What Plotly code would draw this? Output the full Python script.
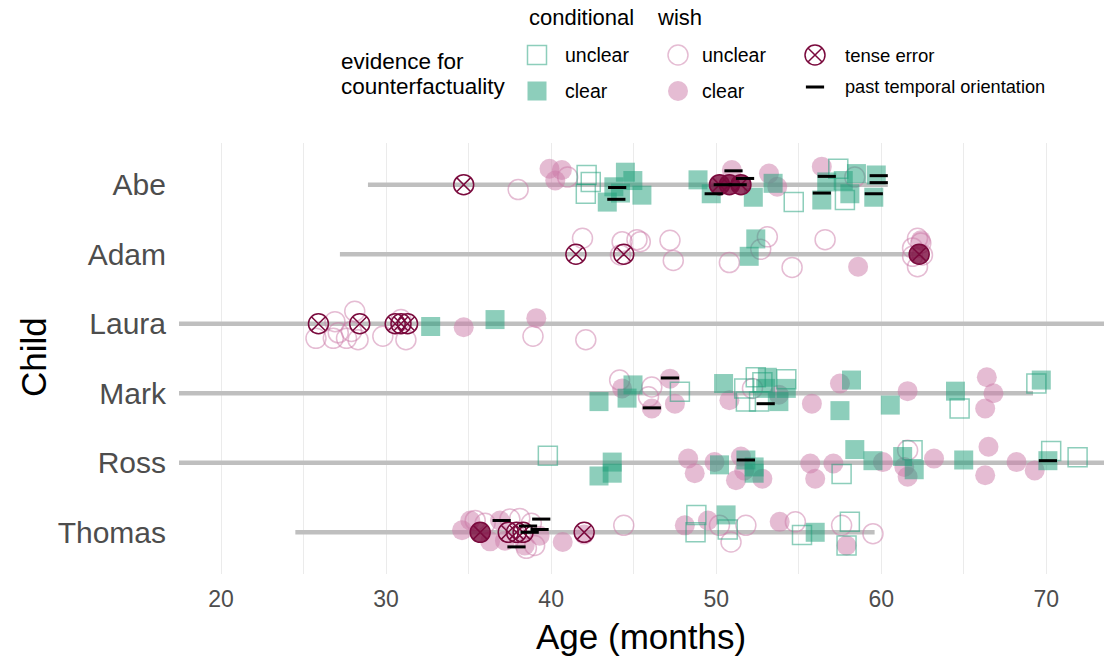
import plotly.graph_objects as go

CHILDREN = ["Abe", "Adam", "Laura", "Mark", "Ross", "Thomas"]
RANGE_START = [28.9, 27.2, 17.0, 17.0, 17.0, 24.5]
RANGE_END = [60.4, 62.3, 74.0, 69.2, 74.0, 59.6]

X_TICKS = [20, 25, 30, 35, 40, 45, 50, 55, 60, 65, 70]
X_TICKTEXT = ["20", "", "30", "", "40", "", "50", "", "60", "", "70"]

# (child, age in months, vertical jitter in row units)
WISH_CLEAR = [
    ("Abe", 39.9, 0.23), ("Abe", 40.25, 0.06), ("Abe", 40.65, 0.21), ("Abe", 50.95, 0.21),
    ("Abe", 53.2, 0.16), ("Abe", 53.7, -0.03), ("Abe", 56.4, 0.26),
    ("Adam", 58.6, -0.18), ("Adam", 62.4, 0.2),
    ("Laura", 34.7, -0.05), ("Laura", 39.1, 0.08),
    ("Mark", 44.3, 0.07), ("Mark", 46.1, -0.22), ("Mark", 47.2, 0.21), ("Mark", 47.5, -0.15),
    ("Mark", 50.8, -0.1), ("Mark", 53.8, -0.02), ("Mark", 55.8, -0.15), ("Mark", 57.5, 0.14),
    ("Mark", 61.6, 0.03), ("Mark", 66.4, 0.23), ("Mark", 66.8, 0.0), ("Mark", 66.3, -0.22),
    ("Ross", 48.3, 0.06), ("Ross", 48.7, -0.15), ("Ross", 49.9, 0.01), ("Ross", 51.5, 0.09),
    ("Ross", 51.2, -0.25), ("Ross", 51.7, -0.11), ("Ross", 52.8, -0.23), ("Ross", 55.7, -0.01),
    ("Ross", 56.0, -0.23), ("Ross", 57.1, -0.01), ("Ross", 60.1, 0.01), ("Ross", 61.4, -0.06),
    ("Ross", 61.6, -0.2), ("Ross", 63.2, 0.06), ("Ross", 66.5, 0.23), ("Ross", 66.3, -0.18),
    ("Ross", 68.2, 0.01), ("Ross", 69.3, -0.11),
    ("Thomas", 35.1, 0.17), ("Thomas", 34.6, 0.03), ("Thomas", 36.3, -0.13), ("Thomas", 36.9, 0.17),
    ("Thomas", 38.4, -0.19), ("Thomas", 37.2, -0.12), ("Thomas", 39.3, -0.05), ("Thomas", 40.7, -0.14),
    ("Thomas", 42.0, -0.03), ("Thomas", 48.1, 0.1), ("Thomas", 49.5, 0.17), ("Thomas", 53.85, 0.15),
    ("Thomas", 57.9, -0.19),
]

WISH_UNCLEAR = [
    ("Abe", 38.0, -0.07), ("Abe", 41.0, 0.11), ("Abe", 58.4, 0.11),
    ("Adam", 41.9, 0.23), ("Adam", 44.3, 0.18), ("Adam", 44.2, -0.01), ("Adam", 45.2, 0.21),
    ("Adam", 45.4, 0.18), ("Adam", 47.2, 0.2), ("Adam", 47.4, -0.09), ("Adam", 50.8, -0.12),
    ("Adam", 53.1, 0.25), ("Adam", 52.7, 0.07), ("Adam", 54.6, -0.19), ("Adam", 56.6, 0.21),
    ("Adam", 62.2, 0.23), ("Adam", 62.4, 0.16), ("Adam", 61.9, -0.03), ("Adam", 62.2, -0.18),
    ("Adam", 62.5, -0.01), ("Adam", 61.9, 0.09),
    ("Laura", 25.75, -0.21), ("Laura", 26.9, 0.03), ("Laura", 26.8, -0.21), ("Laura", 27.1, -0.13),
    ("Laura", 27.6, -0.21), ("Laura", 28.1, 0.18), ("Laura", 27.9, -0.11), ("Laura", 28.3, -0.23),
    ("Laura", 29.8, -0.18), ("Laura", 31.2, -0.23), ("Laura", 30.9, 0.06), ("Laura", 38.9, -0.18),
    ("Laura", 42.1, -0.23),
    ("Mark", 44.15, 0.19), ("Mark", 46.1, 0.09), ("Mark", 45.9, -0.05), ("Mark", 52.2, 0.07),
    ("Ross", 61.6, 0.18),
    ("Thomas", 35.4, 0.17), ("Thomas", 36.0, 0.13), ("Thomas", 37.5, 0.19), ("Thomas", 38.1, 0.2),
    ("Thomas", 39.0, -0.19), ("Thomas", 38.5, -0.23), ("Thomas", 38.8, 0.13), ("Thomas", 44.4, 0.1),
    ("Thomas", 50.2, 0.1), ("Thomas", 51.8, 0.1), ("Thomas", 50.9, -0.14), ("Thomas", 54.8, 0.15),
    ("Thomas", 57.6, 0.1), ("Thomas", 59.5, -0.02),
]

COND_CLEAR = [
    ("Abe", 44.5, 0.18), ("Abe", 44.95, 0.06), ("Abe", 45.5, -0.15), ("Abe", 43.8, -0.03),
    ("Abe", 43.4, -0.25), ("Abe", 44.2, -0.12), ("Abe", 48.9, 0.07), ("Abe", 49.7, -0.13),
    ("Abe", 52.25, -0.18), ("Abe", 53.45, 0.02), ("Abe", 56.4, -0.22), ("Abe", 56.7, 0.04),
    ("Abe", 58.1, -0.13), ("Abe", 58.5, 0.16), ("Abe", 59.7, 0.14), ("Abe", 59.55, -0.18),
    ("Abe", 57.7, 0.06),
    ("Adam", 52.4, 0.22), ("Adam", 52.0, -0.03),
    ("Laura", 32.7, -0.04), ("Laura", 36.6, 0.06),
    ("Mark", 42.9, -0.12), ("Mark", 44.96, 0.12), ("Mark", 44.6, -0.07), ("Mark", 50.45, 0.14),
    ("Mark", 53.1, 0.23), ("Mark", 53.0, 0.07), ("Mark", 53.8, -0.12), ("Mark", 54.25, 0.07),
    ("Mark", 58.2, 0.19), ("Mark", 57.5, -0.25), ("Mark", 60.55, -0.17), ("Mark", 64.5, 0.03),
    ("Mark", 69.7, 0.19),
    ("Ross", 43.7, 0.01), ("Ross", 42.9, -0.19), ("Ross", 43.7, -0.15), ("Ross", 50.2, -0.03),
    ("Ross", 51.8, 0.04), ("Ross", 52.3, -0.06), ("Ross", 52.3, -0.15), ("Ross", 58.4, 0.19),
    ("Ross", 59.5, 0.03), ("Ross", 61.3, 0.09), ("Ross", 62.0, -0.1), ("Ross", 65.0, 0.04),
    ("Ross", 70.1, 0.03),
    ("Thomas", 50.6, 0.25), ("Thomas", 56.0, 0.0),
]

COND_UNCLEAR = [
    ("Abe", 42.15, 0.14), ("Abe", 42.4, 0.04), ("Abe", 42.1, -0.13), ("Abe", 54.7, -0.25),
    ("Abe", 57.4, 0.23), ("Abe", 57.8, -0.22),
    ("Mark", 47.8, 0.02), ("Mark", 52.4, 0.23), ("Mark", 54.25, 0.2), ("Mark", 51.7, 0.07),
    ("Mark", 51.8, -0.12), ("Mark", 52.6, -0.12), ("Mark", 52.8, 0.16), ("Mark", 64.75, -0.22),
    ("Mark", 69.4, 0.14),
    ("Ross", 39.8, 0.1), ("Ross", 57.6, -0.16), ("Ross", 61.9, 0.18), ("Ross", 70.3, 0.17),
    ("Ross", 71.9, 0.08),
    ("Thomas", 48.8, 0.25), ("Thomas", 48.75, 0.0), ("Thomas", 50.7, 0.04), ("Thomas", 55.2, -0.04),
    ("Thomas", 58.1, 0.15), ("Thomas", 57.9, -0.19),
]

TENSE_ERROR_UNCLEAR = [
    ("Abe", 34.7, 0.0),
    ("Adam", 41.5, 0.0), ("Adam", 44.4, 0.0),
    ("Laura", 25.9, 0.0), ("Laura", 28.4, 0.0), ("Laura", 30.55, 0.0), ("Laura", 30.9, 0.0),
    ("Laura", 31.3, 0.0),
    ("Thomas", 37.4, 0.0), ("Thomas", 37.9, 0.0), ("Thomas", 38.3, 0.0), ("Thomas", 42.0, 0.0),
]

TENSE_ERROR_CLEAR = [
    ("Abe", 50.2, 0.0), ("Abe", 50.8, 0.0), ("Abe", 51.5, 0.0),
    ("Adam", 62.3, 0.0),
    ("Thomas", 35.7, 0.0),
]

PAST_ORIENTATION = [
    ("Abe", 44.0, -0.04), ("Abe", 43.95, -0.21), ("Abe", 51.05, 0.2), ("Abe", 50.4, 0.0),
    ("Abe", 51.3, 0.0), ("Abe", 49.85, -0.13), ("Abe", 51.75, 0.09), ("Abe", 56.7, 0.12),
    ("Abe", 56.4, -0.12), ("Abe", 59.85, 0.13), ("Abe", 59.85, 0.03), ("Abe", 59.55, -0.13),
    ("Mark", 47.2, 0.22), ("Mark", 46.1, -0.21), ("Mark", 53.0, -0.15),
    ("Ross", 51.8, 0.04), ("Ross", 70.1, 0.03),
    ("Thomas", 37.0, 0.17), ("Thomas", 39.4, 0.19), ("Thomas", 39.3, 0.04), ("Thomas", 38.6, 0.09),
    ("Thomas", 38.7, 0.0), ("Thomas", 37.9, -0.21),
]

# ---------------------------------------------------------------- styling
FONT = "Liberation Sans"
TEAL = "rgba(27,158,119,0.5)"
PINK = "rgba(204,121,167,0.5)"
MAROON = "#7a0a3d"
MAROON_FILL = "rgba(122,10,61,0.8)"
GREY_LINE = "#bfbfbf"

ypos = {c: len(CHILDREN) - i for i, c in enumerate(CHILDREN)}


def xy(pts):
    return [p[1] for p in pts], [ypos[p[0]] + p[2] for p in pts]


fig = go.Figure()

# child age-range lines
for c, s, e in zip(CHILDREN, RANGE_START, RANGE_END):
    fig.add_trace(go.Scatter(x=[s, e], y=[ypos[c], ypos[c]], mode="lines",
                             line=dict(color=GREY_LINE, width=4.5), hoverinfo="skip",
                             showlegend=False))

layers = [
    (WISH_CLEAR, dict(symbol="circle", size=20, color=PINK, line=dict(width=0))),
    (WISH_UNCLEAR, dict(symbol="circle-open", size=20, color=PINK, line=dict(width=1.5, color=PINK))),
    (COND_CLEAR, dict(symbol="square", size=19, color=TEAL, line=dict(width=0))),
    (COND_UNCLEAR, dict(symbol="square-open", size=19, color=TEAL, line=dict(width=1.5, color=TEAL))),
    (TENSE_ERROR_CLEAR, dict(symbol="circle-x", size=20, color=MAROON_FILL, line=dict(width=1.5, color=MAROON))),
    (TENSE_ERROR_UNCLEAR, dict(symbol="circle-x-open", size=20, color=MAROON, line=dict(width=1.5, color=MAROON))),
    (PAST_ORIENTATION, dict(symbol="line-ew", size=13, color="black", line=dict(width=3, color="black"))),
]
for pts, mk in layers:
    x, y = xy(pts)
    fig.add_trace(go.Scatter(x=x, y=y, mode="markers", marker=mk, showlegend=False,
                             hoverinfo="skip", cliponaxis=False))

# ---------------------------------------------------------------- legend (drawn on a helper axis)
LEG = dict(xaxis="x2", yaxis="y2", mode="markers", showlegend=False, hoverinfo="skip")
leg_items = [
    (537, 55, dict(symbol="square-open", size=19, color=TEAL, line=dict(width=1.5, color=TEAL))),
    (537, 91, dict(symbol="square", size=19, color=TEAL, line=dict(width=0))),
    (678, 55, dict(symbol="circle-open", size=20, color=PINK, line=dict(width=1.5, color=PINK))),
    (678, 91, dict(symbol="circle", size=20, color=PINK, line=dict(width=0))),
    (815, 55, dict(symbol="circle-x-open", size=20, color=MAROON, line=dict(width=1.5, color=MAROON))),
    (815, 87, dict(symbol="line-ew", size=13, color="black", line=dict(width=3, color="black"))),
]
for lx, ly, mk in leg_items:
    fig.add_trace(go.Scatter(x=[lx], y=[ly], marker=mk, **LEG))

annotations = []
leg_texts = [
    ("conditional", 527, 17, 22), ("wish", 655, 17, 22),
    ("evidence for", 339, 61, 22.5), ("counterfactuality", 339, 86, 22.5),
    ("unclear", 563, 55, 19.5), ("clear", 563, 91, 19.5),
    ("unclear", 700, 55, 19.5), ("clear", 700, 91, 19.5),
    ("tense error", 843, 55, 18.5), ("past temporal orientation", 843, 87, 18.2),
]
for t, lx, ly, fs in leg_texts:
    annotations.append(dict(text=t, x=lx, y=ly, xref="x2", yref="y2", xanchor="left",
                            yanchor="middle", showarrow=False,
                            font=dict(family=FONT, size=fs, color="black")))

H_PLOT = 574.0
main_top = (H_PLOT - 143) / H_PLOT

annotations.append(dict(text="Child", x=(33 - 179) / 925, y=(H_PLOT - 357) / H_PLOT,
                        xref="paper", yref="paper", textangle=-90, showarrow=False,
                        xanchor="center", yanchor="middle",
                        font=dict(family=FONT, size=35, color="black")))
annotations.append(dict(text="Age (months)", x=(641 - 179) / 925, y=(H_PLOT - 636) / H_PLOT,
                        xref="paper", yref="paper", showarrow=False,
                        xanchor="center", yanchor="middle",
                        font=dict(family=FONT, size=35, color="black")))

fig.update_layout(
    width=1104, height=658,
    margin=dict(l=179, r=0, t=0, b=84),
    paper_bgcolor="white", plot_bgcolor="white",
    font=dict(family=FONT),
    annotations=annotations,
    xaxis=dict(range=[17.45, 73.5], tickvals=X_TICKS, ticktext=X_TICKTEXT,
               showgrid=True, gridcolor="#ebebeb", gridwidth=1.3, zeroline=False,
               showline=False, ticks="outside", ticklen=4, tickcolor="rgba(0,0,0,0)",
               tickfont=dict(family=FONT, size=23, color="#4d4d4d")),
    yaxis=dict(range=[0.4, 6.6], domain=[0, main_top],
               tickvals=[ypos[c] for c in CHILDREN], ticktext=CHILDREN,
               showgrid=False, zeroline=False, showline=False,
               ticks="outside", ticklen=6, tickcolor="rgba(0,0,0,0)",
               tickfont=dict(family=FONT, size=30, color="#4d4d4d")),
    xaxis2=dict(range=[179, 1104], domain=[0, 1], anchor="y2", visible=False),
    yaxis2=dict(range=[H_PLOT * (1 - 0.76), 0], domain=[0.76, 1], anchor="x2", visible=False),
)

fig.write_html("out.html")
